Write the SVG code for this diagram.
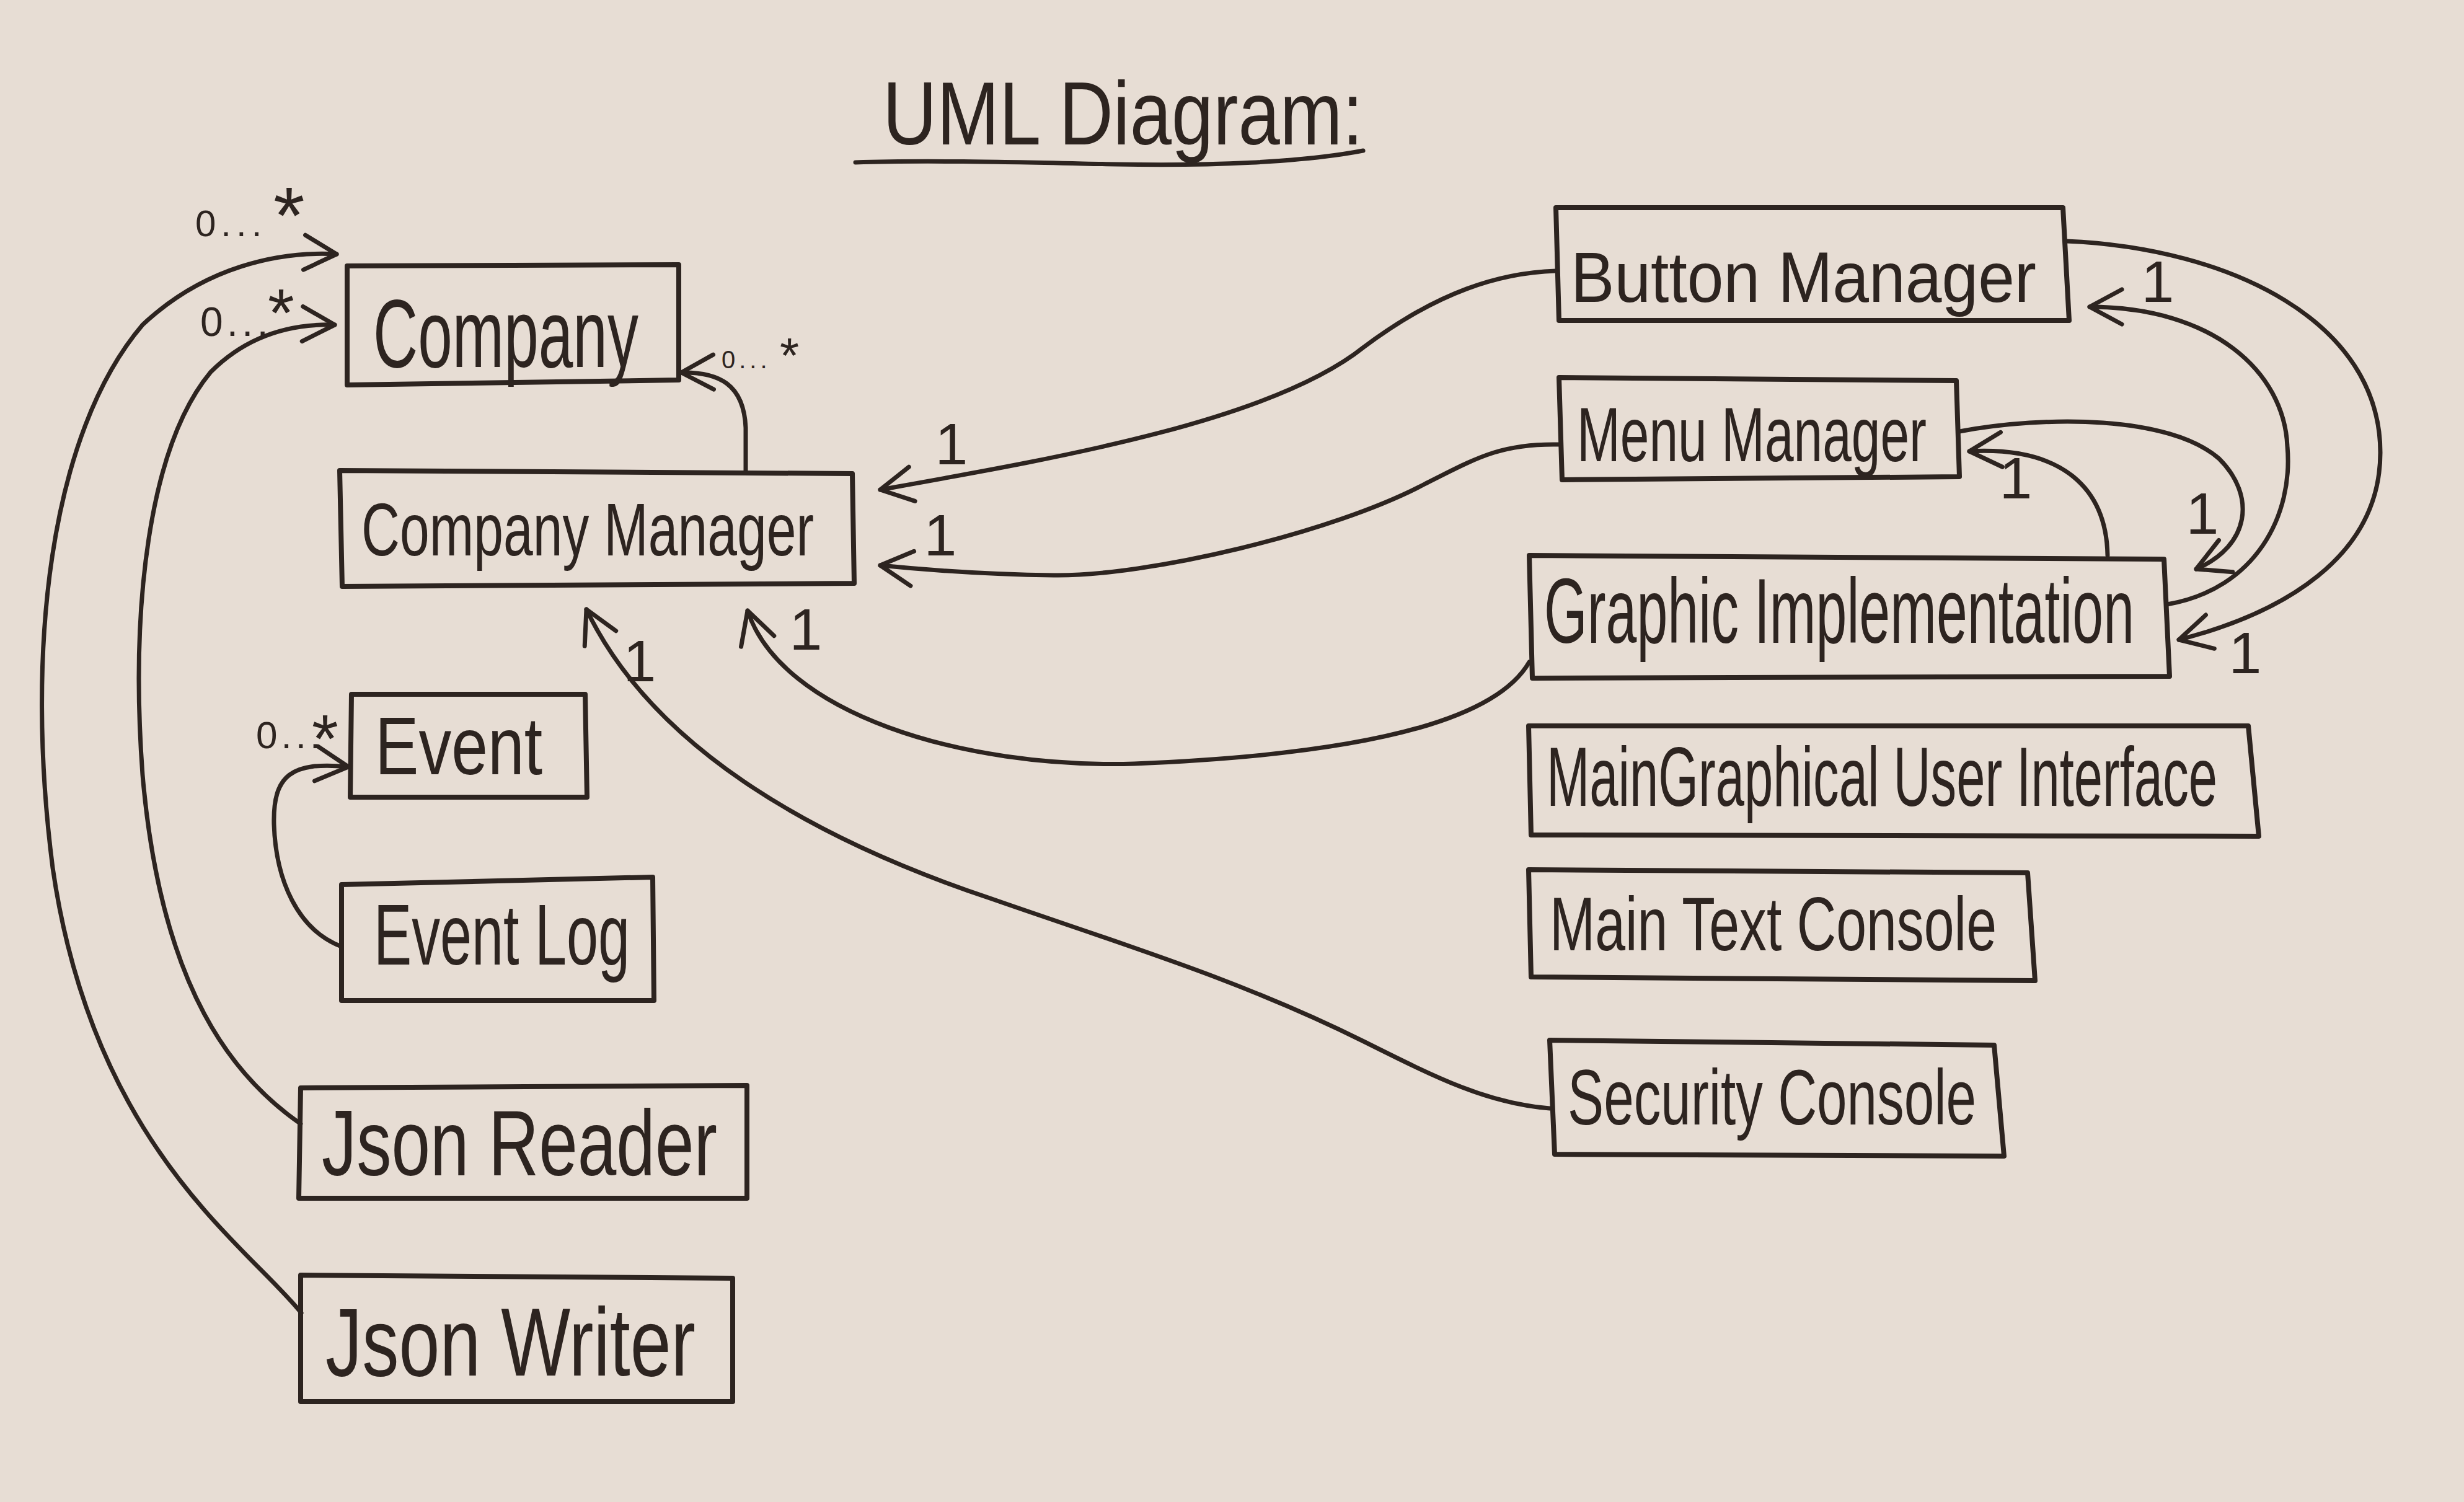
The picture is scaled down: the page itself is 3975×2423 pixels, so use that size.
<svg xmlns="http://www.w3.org/2000/svg" width="3975" height="2423" viewBox="0 0 3975 2423">
<style>
.bg{fill:#e7ddd4}
.box{fill:none;stroke:#2d2420;stroke-width:8;stroke-linejoin:round}
.lbl{font-family:"Liberation Sans","DejaVu Sans",sans-serif;fill:#2d2420}
.edge{fill:none;stroke:#2d2420;stroke-width:7;stroke-linecap:round}
.mult{font-family:"Liberation Sans","DejaVu Sans",sans-serif;fill:#2d2420}
</style>
<defs>
<marker id="arr" viewBox="0 0 60 64" refX="56" refY="32" markerWidth="60" markerHeight="64" markerUnits="userSpaceOnUse" orient="auto">
<path d="M4,4 L56,32 L4,60" fill="none" stroke="#2d2420" stroke-width="7" stroke-linecap="round" stroke-linejoin="round"/>
</marker>
</defs>
<rect class="bg" x="0" y="0" width="3975" height="2423"/>

<g id="title">
<text class="lbl" x="1424" y="233" font-size="144" textLength="775" lengthAdjust="spacingAndGlyphs">UML Diagram:</text>
<path class="edge" d="M1380,262 C1500,258 1650,262 1800,265 C1950,268 2100,262 2199,243" stroke-width="8"/>
</g>

<g id="connectors">
<path class="edge" marker-end="url(#arr)" d="M486,2118 C400,2010 150,1850 85,1400 C40,1050 80,700 230,524 C330,430 450,405 543,410"/>
<path class="edge" marker-end="url(#arr)" d="M485,1813 C380,1740 260,1600 230,1250 C210,980 240,720 340,600 C400,540 470,522 540,524"/>
<path class="edge" marker-end="url(#arr)" d="M551,1527 C480,1500 445,1420 442,1330 C440,1250 470,1228 562,1237"/>
<path class="edge" marker-end="url(#arr)" d="M1203,759 L1203,690 C1200,620 1160,600 1099,601"/>
<path class="edge" marker-end="url(#arr)" d="M2510,437 C2420,440 2320,470 2200,560 C2050,680 1700,740 1420,790"/>
<path class="edge" marker-end="url(#arr)" d="M2515,717 C2420,715 2380,740 2300,780 C2150,860 1850,930 1700,928 C1600,927 1500,920 1420,912"/>
<path class="edge" marker-end="url(#arr)" d="M2467,1068 C2420,1150 2250,1215 1830,1232 C1550,1240 1260,1150 1206,985"/>
<path class="edge" marker-end="url(#arr)" d="M2500,1788 C2400,1780 2320,1740 2200,1680 C2000,1580 1800,1520 1600,1450 C1300,1350 1050,1200 946,983"/>
<path class="edge" marker-end="url(#arr)" d="M3333,389 C3600,400 3840,520 3840,730 C3840,900 3680,990 3515,1032"/>
<path class="edge" marker-end="url(#arr)" d="M3496,975 C3640,950 3700,830 3690,720 C3685,600 3570,495 3371,495"/>
<path class="edge" marker-end="url(#arr)" d="M3161,696 C3300,670 3500,670 3580,740 C3640,800 3630,880 3543,918"/>
<path class="edge" marker-end="url(#arr)" d="M3400,896 C3398,790 3330,720 3177,728"/>
</g>

<g id="multiplicities">
<text class="mult" x="315" y="381" font-size="60" letter-spacing="8">0...<tspan x="441" y="393" font-size="130">*</tspan></text>
<text class="mult" x="323" y="542" font-size="66" letter-spacing="6">0...<tspan x="432" y="542" font-size="110">*</tspan></text>
<text class="mult" x="1164" y="594" font-size="40" letter-spacing="6">0...<tspan x="1258" y="601" font-size="80">*</tspan></text>
<text class="mult" x="413" y="1207" font-size="62" letter-spacing="6">0...<tspan x="503" y="1229" font-size="110">*</tspan></text>
<g font-size="95" text-anchor="middle">
<text class="mult" x="1535" y="749">1</text>
<text class="mult" x="1517" y="896">1</text>
<text class="mult" x="1300" y="1048">1</text>
<text class="mult" x="1032" y="1099">1</text>
<text class="mult" x="3481" y="487">1</text>
<text class="mult" x="3252" y="804">1</text>
<text class="mult" x="3553" y="861">1</text>
<text class="mult" x="3622" y="1086">1</text>
</g>
</g>

<g id="company">
<polygon class="box" points="560,429 1095,427 1095,613 560,621"/>
<text class="lbl" x="602" y="592" font-size="156" textLength="428" lengthAdjust="spacingAndGlyphs">Company</text>
</g>
<g id="company-manager">
<polygon class="box" points="548,759 1375,764 1378,941 552,946"/>
<text class="lbl" x="583" y="896" font-size="120" textLength="730" lengthAdjust="spacingAndGlyphs">Company Manager</text>
</g>
<g id="event">
<polygon class="box" points="567,1120 944,1120 947,1286 565,1286"/>
<text class="lbl" x="605" y="1249" font-size="132" textLength="270" lengthAdjust="spacingAndGlyphs">Event</text>
</g>
<g id="event-log">
<polygon class="box" points="551,1427 1053,1415 1055,1614 551,1614"/>
<text class="lbl" x="603" y="1556" font-size="140" textLength="413" lengthAdjust="spacingAndGlyphs">Event Log</text>
</g>
<g id="json-reader">
<polygon class="box" points="485,1755 1205,1751 1205,1933 482,1933"/>
<text class="lbl" x="519" y="1896" font-size="150" textLength="638" lengthAdjust="spacingAndGlyphs">Json Reader</text>
</g>
<g id="json-writer">
<polygon class="box" points="485,2057 1182,2062 1182,2261 485,2261"/>
<text class="lbl" x="525" y="2219" font-size="155" textLength="597" lengthAdjust="spacingAndGlyphs">Json Writer</text>
</g>
<g id="button-manager">
<polygon class="box" points="2510,335 3328,335 3338,517 2515,517"/>
<text class="lbl" x="2534" y="487" font-size="115" textLength="751" lengthAdjust="spacingAndGlyphs">Button Manager</text>
</g>
<g id="menu-manager">
<polygon class="box" points="2515,609 3156,614 3161,769 2520,774"/>
<text class="lbl" x="2544" y="744" font-size="125" textLength="564" lengthAdjust="spacingAndGlyphs">Menu Manager</text>
</g>
<g id="graphic-implementation">
<polygon class="box" points="2467,896 3491,902 3500,1091 2472,1094"/>
<text class="lbl" x="2491" y="1037" font-size="148" textLength="952" lengthAdjust="spacingAndGlyphs">Graphic Implementation</text>
</g>
<g id="main-gui">
<polygon class="box" points="2466,1171 3627,1171 3644,1349 2470,1347"/>
<text class="lbl" x="2495" y="1300" font-size="135" textLength="1082" lengthAdjust="spacingAndGlyphs">MainGraphical User Interface</text>
</g>
<g id="main-text-console">
<polygon class="box" points="2466,1403 3271,1408 3283,1582 2470,1576"/>
<text class="lbl" x="2500" y="1533" font-size="122" textLength="721" lengthAdjust="spacingAndGlyphs">Main Text Console</text>
</g>
<g id="security-console">
<polygon class="box" points="2500,1678 3217,1686 3233,1865 2508,1862"/>
<text class="lbl" x="2529" y="1814" font-size="126" textLength="659" lengthAdjust="spacingAndGlyphs">Security Console</text>
</g>
</svg>
